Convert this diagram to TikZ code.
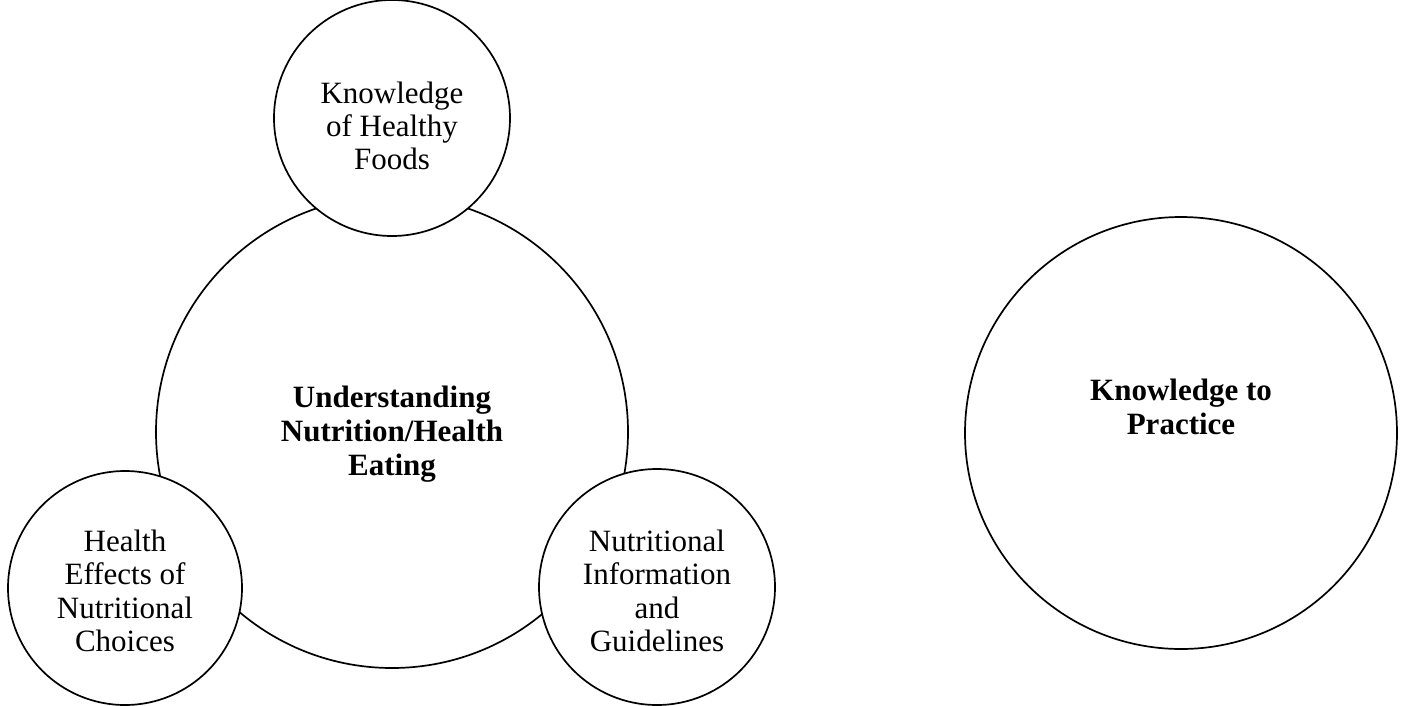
\documentclass[tikz,border=0pt]{standalone}
\usepackage{fontspec}
\setmainfont{Liberation Serif}
\begin{document}
\begin{tikzpicture}[x=1pt,y=-1pt,
  circ/.style={draw=black,line width=1.7pt,fill=white,circle,inner sep=0pt},
  lbl/.style={align=center,font=\fontsize{31}{33.3}\selectfont},
  blbl/.style={align=center,font=\fontsize{31}{34}\selectfont\bfseries}]
\useasboundingbox (0,0) rectangle (1409,705);
\node[circ,minimum size=472pt] (big) at (392,432) {};
\node[circ,minimum size=236pt] (top) at (392,118) {};
\node[circ,minimum size=234pt] (left) at (125,588) {};
\node[circ,minimum size=236pt] (right) at (657,587) {};
\node[circ,minimum size=432pt] (kp) at (1181,433) {};
\node[blbl] (bigt) at (392,434) {Understanding\\Nutrition/Health\\Eating};
\node[lbl] (topt) at (392,126) {Knowledge\\of Healthy\\Foods};
\node[lbl] (leftt) at (125,591) {Health\\Effects of\\Nutritional\\Choices};
\node[lbl] (rightt) at (657,591) {Nutritional\\Information\\and\\Guidelines};
\node[blbl] (kpt) at (1181,407) {Knowledge to\\Practice};
\end{tikzpicture}
\end{document}
